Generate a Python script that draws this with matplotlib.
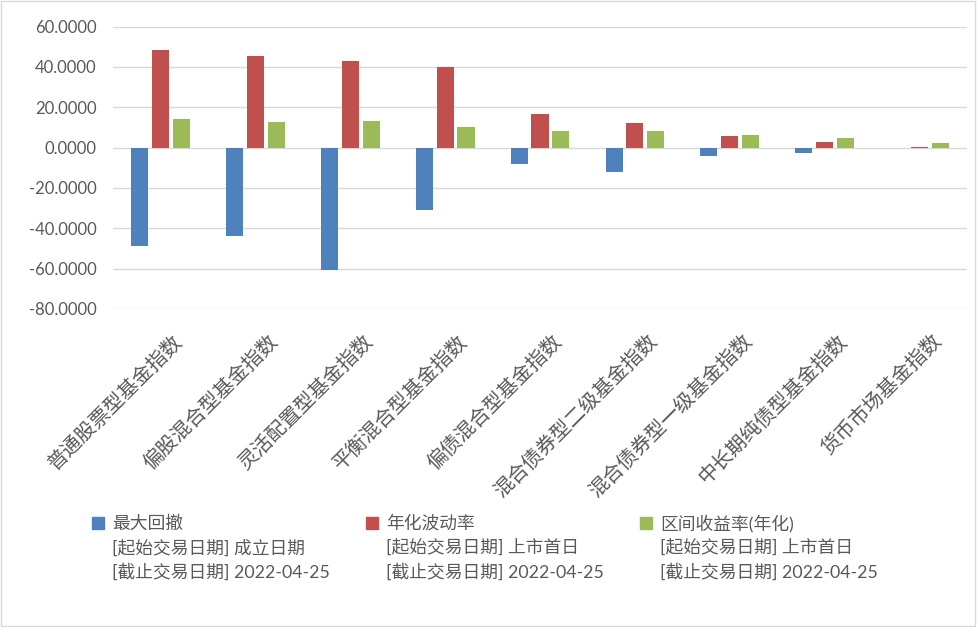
import numpy as np
import matplotlib
matplotlib.use('Agg')
import matplotlib.pyplot as plt
import matplotlib.transforms as mtrans
from matplotlib.patches import Rectangle

plt.rcParams['font.family'] = ['Lato', 'Noto Sans CJK SC', 'DejaVu Sans']

# -------- DATA ------
categories = ['普通股票型基金指数', '偏股混合型基金指数', '灵活配置型基金指数', '平衡混合型基金指数',
              '偏债混合型基金指数', '混合债券型二级基金指数', '混合债券型一级基金指数',
              '中长期纯债型基金指数', '货币市场基金指数']
max_drawdown = [-48.6, -44.0, -60.5, -30.9, -8.3, -12.2, -4.3, -2.8, 0.0]
volatility = [48.6, 45.2, 42.7, 39.7, 16.4, 12.4, 5.5, 3.0, 0.5]
ann_return = [14.4, 12.9, 13.0, 10.4, 8.4, 8.4, 6.0, 4.5, 2.5]

series_names = ['最大回撤', '年化波动率', '区间收益率(年化)']
start_notes = ['[起始交易日期] 成立日期', '[起始交易日期] 上市首日', '[起始交易日期] 上市首日']
end_note = '[截止交易日期] 2022-04-25'
yticks = [-80, -60, -40, -20, 0, 20, 40, 60]
# --------------------

colors = ['#4f81bd', '#c0504d', '#9bbb59']
txt_col = '#595959'

fig = plt.figure(figsize=(9.77, 6.27), dpi=100)
fig.patches.append(Rectangle((0.001, 0.001), 0.997, 0.997, transform=fig.transFigure,
                             fill=False, edgecolor='#d9d9d9', linewidth=1))
ax = fig.add_axes([0.1157, 0.5072, 0.8741, 0.4505])

x = np.arange(len(categories))
w = 0.18
step = 0.22
for k, vals in enumerate([max_drawdown, volatility, ann_return]):
    ax.bar(x + (k - 1) * step, vals, width=w, color=colors[k], zorder=3)

ax.set_xlim(-0.5, len(categories) - 0.5)
ax.set_ylim(-80, 60)
ax.set_yticks(yticks)
ax.set_yticklabels(['%.4f' % v for v in yticks], fontsize=12, color=txt_col)
ax.grid(axis='y', color='#d9d9d9', linewidth=1, zorder=0)
ax.tick_params(axis='both', length=0)
ax.tick_params(axis='y', pad=12)
for s in ax.spines.values():
    s.set_visible(False)

ax.set_xticks(x)
ax.set_xticklabels(categories, rotation=45, ha='right', va='top', rotation_mode='anchor',
                   fontsize=14.5, color=txt_col, family=['Noto Sans CJK SC', 'DejaVu Sans'])
offset = mtrans.ScaledTranslation(12 / 100, -17 / 100, fig.dpi_scale_trans)
for lab in ax.get_xticklabels():
    lab.set_transform(lab.get_transform() + offset)

# legend drawn by hand: three columns, each with three text lines
leg_x = [92, 366, 640]
row_y = [523, 548, 572]
W, H = 977, 627
for k in range(3):
    fig.patches.append(Rectangle(((leg_x[k]) / W, 1 - (row_y[0] + 6) / H), 12 / W, 12 / H,
                                 transform=fig.transFigure, color=colors[k]))
    lines = [series_names[k], start_notes[k], end_note]
    for j, t in enumerate(lines):
        fig.text((leg_x[k] + 20) / W, 1 - row_y[j] / H, t, fontsize=12.8, color=txt_col,
                 va='center', ha='left')

fig.savefig('out.png', dpi=100)
